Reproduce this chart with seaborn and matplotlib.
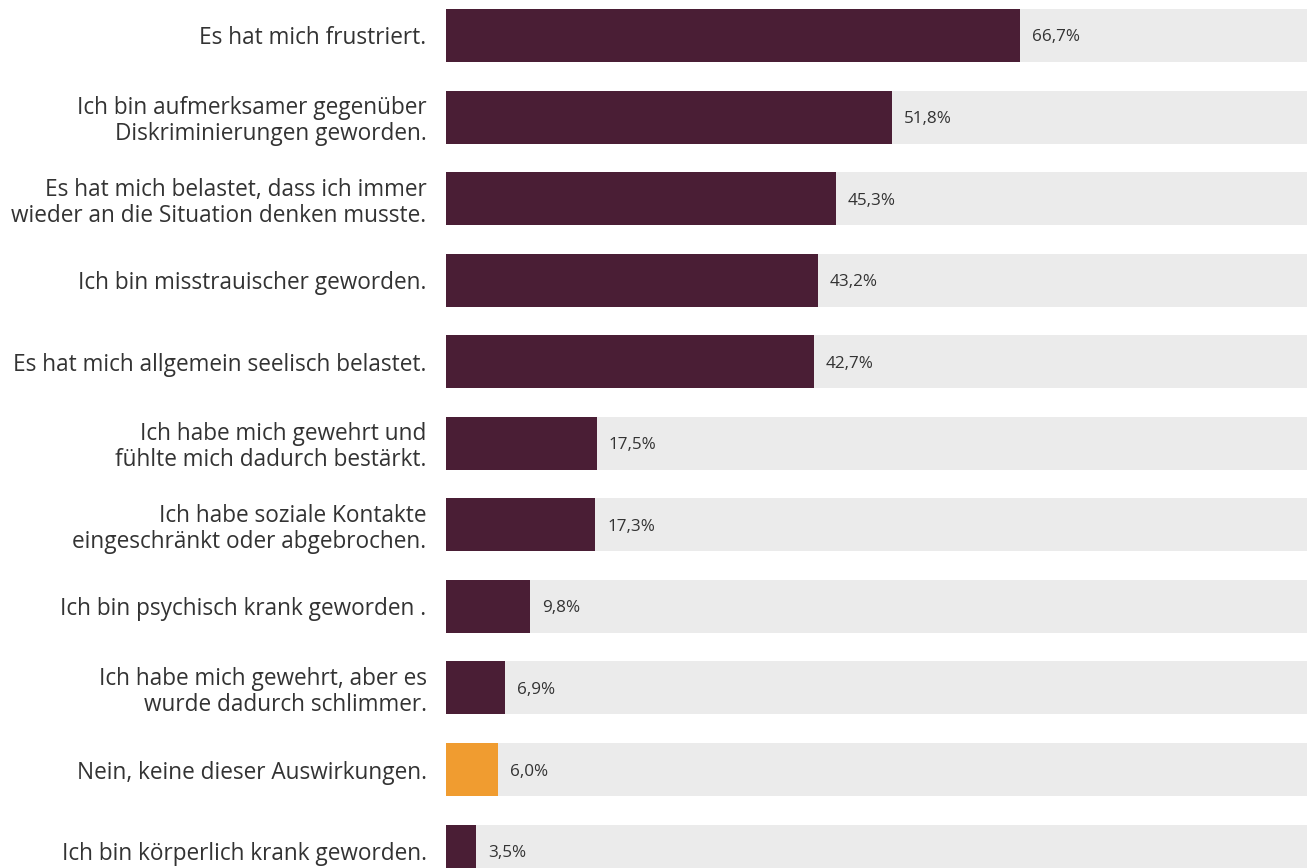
import matplotlib
matplotlib.use("Agg")
import matplotlib.pyplot as plt
import seaborn as sns
import pandas as pd

# data
labels = [
    "Es hat mich frustriert.",
    "Ich bin aufmerksamer gegenüber\nDiskriminierungen geworden.",
    "Es hat mich belastet, dass ich immer\nwieder an die Situation denken musste.",
    "Ich bin misstrauischer geworden.",
    "Es hat mich allgemein seelisch belastet.",
    "Ich habe mich gewehrt und\nfühlte mich dadurch bestärkt.",
    "Ich habe soziale Kontakte\neingeschränkt oder abgebrochen.",
    "Ich bin psychisch krank geworden .",
    "Ich habe mich gewehrt, aber es\nwurde dadurch schlimmer.",
    "Nein, keine dieser Auswirkungen.",
    "Ich bin körperlich krank geworden.",
]
values = [66.7, 51.8, 45.3, 43.2, 42.7, 17.5, 17.3, 9.8, 6.9, 6.0, 3.5]
groups = ["ja"] * 9 + ["nein", "ja"]

DARK = "#4a1e35"
ORANGE = "#f09c30"
GREY = "#ebebeb"
TEXT = "#333333"

df = pd.DataFrame({"label": labels, "value": values, "group": groups,
                   "full": [100] * len(labels)})

sns.set_style("white")
plt.rcParams["font.family"] = ["Open Sans", "DejaVu Sans"]

fig = plt.figure(figsize=(13.07, 8.68), dpi=100)
ax = fig.add_axes([446 / 1307, 0, 1 - 446 / 1307, 1])

# grey 100% track behind each bar
sns.barplot(data=df, y="label", x="full", color=GREY, width=0.65,
            orient="h", ax=ax, saturation=1, linewidth=0)
sns.barplot(data=df, y="label", x="value", hue="group",
            palette={"ja": DARK, "nein": ORANGE}, width=0.65, orient="h",
            dodge=False, legend=False, ax=ax, saturation=1, linewidth=0)

for i, v in enumerate(values):
    ax.text(v + 1.4, i, f"{v:.1f}%".replace(".", ","), va="center_baseline",
            ha="left", fontsize=12.3, color=TEXT)

ax.set_xlim(0, 100)
ax.set_ylim(10.207, -0.435)
ax.set_xlabel("")
ax.set_ylabel("")
ax.set_xticks([])
ax.tick_params(axis="y", length=0, pad=14, labelsize=16.3, labelcolor=TEXT)
for lab in ax.get_yticklabels():
    lab.set_horizontalalignment("right")
    lab.set_linespacing(1.12)
sns.despine(ax=ax, left=True, bottom=True)

fig.savefig("out.png", dpi=100)
